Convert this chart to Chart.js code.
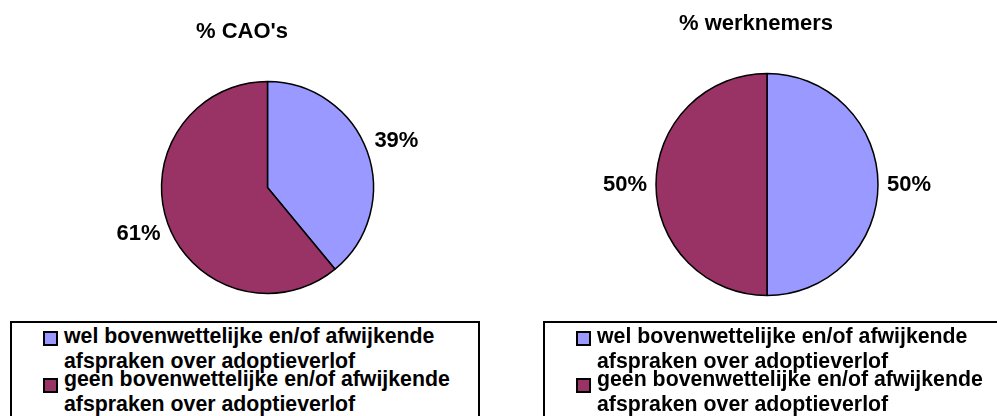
<!DOCTYPE html>
<html><head><meta charset="utf-8">
<script src="https://cdn.jsdelivr.net/npm/chart.js@4"></script>
<style>
html,body{margin:0;padding:0;background:#fff;width:997px;height:416px;overflow:hidden;position:relative;font-family:"Liberation Sans",Arial,sans-serif;}
canvas{position:absolute;top:0;}
#c1{left:0}
#c2{left:500px}
.legend{position:absolute;top:321px;height:130px;border:2px solid #000;box-sizing:border-box;background:#fff;}
.item-text{position:absolute;font-weight:bold;font-size:21.3px;line-height:25px;white-space:nowrap;color:#000;}
.swatch{position:absolute;width:15px;height:15px;box-sizing:border-box;border:2px solid #000;}
</style></head><body>
<canvas id="c1" width="500" height="416"></canvas>
<canvas id="c2" width="497" height="416"></canvas>
<div class="legend" id="l1" style="left:10px;width:470px"></div>
<div class="legend" id="l2" style="left:543px;width:470px"></div>
<script>
// ---- data ----
const categories = [
  ['wel bovenwettelijke en/of afwijkende', 'afspraken over adoptieverlof'],
  ['geen bovenwettelijke en/of afwijkende', 'afspraken over adoptieverlof']
];
const caoValues = [39, 61];
const werknemersValues = [50, 50];
const chartTitles = ["% CAO's", "% werknemers"];
const sliceColors = ['#9999FF', '#993366'];

const FONT = '"Liberation Sans", Arial, sans-serif';

const fixedTitle = {
  id: 'fixedTitle',
  afterDraw(chart, args, opts) {
    const ctx = chart.ctx;
    ctx.save();
    ctx.font = 'bold 22px ' + FONT;
    ctx.fillStyle = '#000';
    ctx.textAlign = 'center';
    ctx.textBaseline = 'alphabetic';
    ctx.fillText(opts.text, opts.x, opts.y);
    ctx.restore();
  }
};

const outsideLabels = {
  id: 'outsideLabels',
  afterDatasetsDraw(chart, args, opts) {
    const ctx = chart.ctx;
    const meta = chart.getDatasetMeta(0);
    const data = chart.data.datasets[0].data;
    ctx.save();
    ctx.font = 'bold 22px ' + FONT;
    ctx.fillStyle = '#000';
    ctx.textAlign = 'center';
    ctx.textBaseline = 'middle';
    meta.data.forEach((arc, i) => {
      const p = arc.getProps(['x', 'y', 'startAngle', 'endAngle', 'outerRadius'], true);
      const mid = (p.startAngle + p.endAngle) / 2;
      const d = p.outerRadius + opts.gap;
      ctx.fillText(data[i] + '%', p.x + Math.cos(mid) * d, p.y + Math.sin(mid) * d);
    });
    ctx.restore();
  }
};

function makeChart(id, values, title, pad, radius, titlePos) {
  return new Chart(document.getElementById(id), {
    type: 'pie',
    data: {
      labels: categories,
      datasets: [{
        data: values,
        backgroundColor: sliceColors,
        borderColor: '#000',
        borderWidth: 1.5,
        hoverOffset: 0
      }]
    },
    options: {
      responsive: false,
      animation: false,
      radius: radius,
      layout: { padding: pad },
      plugins: {
        legend: { display: false },
        title: { display: false },
        tooltip: { enabled: false },
        fixedTitle: { text: title, x: titlePos.x, y: titlePos.y },
        outsideLabels: { gap: 31 }
      }
    },
    plugins: [fixedTitle, outsideLabels]
  });
}

const chart1 = makeChart('c1', caoValues, chartTitles[0],
  { left: 161.5, right: 126.5, top: 81.5, bottom: 122.5 }, 106, { x: 242, y: 38 });
const chart2 = makeChart('c2', werknemersValues, chartTitles[1],
  { left: 156, right: 119, top: 73.5, bottom: 120.5 }, 111, { x: 256, y: 30 });

function buildLegend(chart, el) {
  const labels = chart.data.labels;
  const colors = chart.data.datasets[0].backgroundColor;
  const swatchTops = [8, 55];
  const textTops = [1, 44];
  labels.forEach((lab, i) => {
    const sw = document.createElement('div');
    sw.className = 'swatch';
    sw.style.left = '31px';
    sw.style.top = swatchTops[i] + 'px';
    sw.style.background = colors[i];
    el.appendChild(sw);
    const t = document.createElement('div');
    t.className = 'item-text';
    t.style.left = '52px';
    t.style.top = textTops[i] + 'px';
    t.innerHTML = (Array.isArray(lab) ? lab : [lab]).join('<br>');
    el.appendChild(t);
  });
}
buildLegend(chart1, document.getElementById('l1'));
buildLegend(chart2, document.getElementById('l2'));
</script>
</body></html>
